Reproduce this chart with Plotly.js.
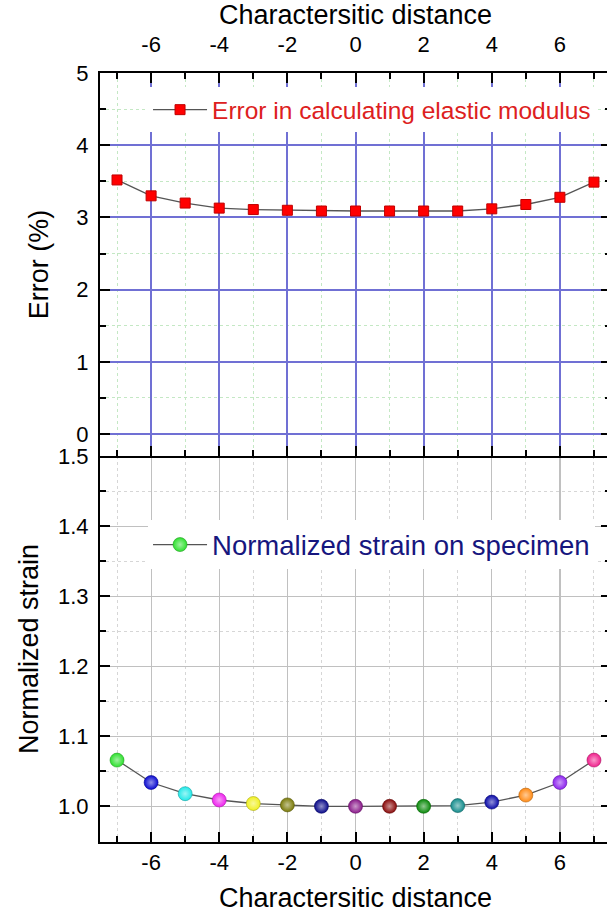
<!DOCTYPE html>
<html>
<head>
<meta charset="utf-8">
<script src="https://cdn.plot.ly/plotly-3.0.1.min.js"></script>
<style>
  html, body { margin: 0; padding: 0; overflow: hidden; background: #fff; }
  #chart { width: 611px; height: 917px; }
</style>
</head>
<body>
<div id="chart"></div>
<script>
// Characteristic distance positions (shared by both panels)
const distance = [-7, -6, -5, -4, -3, -2, -1, 0, 1, 2, 3, 4, 5, 6, 7];

// Error in calculating elastic modulus (%)
const errorPct = [3.52, 3.30, 3.20, 3.13, 3.11, 3.10, 3.09, 3.09, 3.09, 3.09, 3.09, 3.12, 3.18, 3.28, 3.49];

// Normalized strain on specimen
const normStrain = [1.066, 1.034, 1.018, 1.009, 1.004, 1.002, 1.000, 1.000, 1.000, 1.000, 1.001, 1.006, 1.016, 1.034, 1.066];

// One colour per strain marker
const strainColors = ['#2ee02e', '#0a0ad0', '#20e8e8', '#ee22ee', '#f0f020', '#7a7a08', '#0a0a8a', '#8a1a8a',
                      '#8a0a0a', '#0a8a0a', '#148c8c', '#0a0aa8', '#ff8a14', '#8c22ee', '#f0208c'];

const xTickVals = [-6, -4, -2, 0, 2, 4, 6];
const xMinorVals = [-7, -5, -3, -1, 1, 3, 5, 7];
const topTitle = 'Charactersitic distance';
const bottomTitle = 'Charactersitic distance';
const errorTitle = 'Error (%)';
const strainTitle = 'Normalized strain';
const errorName = 'Error in calculating elastic modulus';
const strainName = 'Normalized strain on specimen';

const FONT = 'Liberation Sans, Arial, sans-serif';

// lighter tint / darker shade of a colour, for the sphere look
function tint(hex, f) {
  const n = parseInt(hex.slice(1), 16);
  const r = (n >> 16) & 255, g = (n >> 8) & 255, b = n & 255;
  const m = c => Math.round(c + (255 - c) * f);
  return 'rgb(' + m(r) + ',' + m(g) + ',' + m(b) + ')';
}
function shade(hex, f) {
  const n = parseInt(hex.slice(1), 16);
  const r = (n >> 16) & 255, g = (n >> 8) & 255, b = n & 255;
  const m = c => Math.round(c * f);
  return 'rgb(' + m(r) + ',' + m(g) + ',' + m(b) + ')';
}

const errorTrace = {
  x: distance, y: errorPct, name: errorName,
  xaxis: 'x2', yaxis: 'y2', legend: 'legend',
  mode: 'lines+markers', type: 'scatter',
  line: { color: '#555555', width: 1.3 },
  marker: { symbol: 'square', size: 10, color: '#ff0000', line: { color: '#c00000', width: 1 } }
};

const strainTrace = {
  x: distance, y: normStrain, name: strainName,
  xaxis: 'x', yaxis: 'y', legend: 'legend2',
  mode: 'lines+markers', type: 'scatter',
  line: { color: '#555555', width: 1.3 },
  marker: {
    symbol: 'circle', size: 14, color: strainColors,
    gradient: { type: 'radial', color: strainColors.map(c => tint(c, 0.55)) },
    line: { color: strainColors.map(c => shade(c, 0.7)), width: 0.6 }
  }
};

const tickFont = { family: FONT, size: 22, color: '#000' };
const titleFont = { family: FONT, size: 27, color: '#000' };

const BLUE_GRID = 'rgb(112,112,212)';
const GREEN_MINOR = 'rgb(196,232,196)';
const GRAY_GRID = 'rgb(192,192,192)';
const GRAY_MINOR = 'rgb(214,214,214)';

function minorSpec(extra, color) {
  return Object.assign({ ticks: 'inside', ticklen: 6, tickwidth: 2, tickcolor: '#000',
    showgrid: true, gridcolor: color, griddash: 'dot', gridwidth: 1 }, extra);
}

const layout = {
  width: 611, height: 917,
  margin: { l: 100, r: 0, t: 73, b: 75 },
  paper_bgcolor: '#fff', plot_bgcolor: '#fff',
  font: { family: FONT },
  showlegend: true,
  // bottom panel
  xaxis: {
    domain: [0, 1], anchor: 'y', range: [-7.5, 7.5],
    tickmode: 'array', tickvals: xTickVals, ticktext: xTickVals.map(String),
    ticks: 'inside', ticklen: 10, tickwidth: 2, tickcolor: '#000',
    showline: true, linewidth: 2, linecolor: '#000', mirror: false,
    showgrid: true, gridcolor: GRAY_GRID, gridwidth: 1.2,
    minor: minorSpec({ tickvals: xMinorVals }, GRAY_MINOR),
    zeroline: false, tickfont: tickFont,
    title: { text: bottomTitle, font: titleFont, standoff: 14 }
  },
  yaxis: {
    domain: [0, 0.502], anchor: 'x', range: [0.949, 1.5005],
    tickmode: 'linear', tick0: 1.0, dtick: 0.1, tickformat: '.1f',
    ticks: 'inside', ticklen: 10, tickwidth: 2, tickcolor: '#000',
    showline: true, linewidth: 2, linecolor: '#000', mirror: 'ticks',
    showgrid: true, gridcolor: GRAY_GRID, gridwidth: 1.2,
    minor: minorSpec({ dtick: 0.05, tick0: 0.95 }, GRAY_MINOR),
    zeroline: false, tickfont: tickFont, ticklabelstandoff: 5,
    title: { text: strainTitle, font: titleFont, standoff: 12 }
  },
  // top panel
  xaxis2: {
    domain: [0, 1], anchor: 'y2', side: 'top', range: [-7.5, 7.5],
    tickmode: 'array', tickvals: xTickVals, ticktext: xTickVals.map(String),
    ticks: 'inside', ticklen: 10, tickwidth: 2, tickcolor: '#000',
    showline: true, linewidth: 2, linecolor: '#000', mirror: 'ticks',
    showgrid: true, gridcolor: BLUE_GRID, gridwidth: 2,
    minor: minorSpec({ tickvals: xMinorVals }, GREEN_MINOR),
    zeroline: false, tickfont: tickFont, ticklabelstandoff: 10,
    title: { text: topTitle, font: titleFont, standoff: 0 }
  },
  yaxis2: {
    domain: [0.502, 1], anchor: 'x2', range: [-0.304, 5.002],
    tickmode: 'linear', tick0: 0, dtick: 1,
    ticks: 'inside', ticklen: 10, tickwidth: 2, tickcolor: '#000',
    showline: true, linewidth: 2, linecolor: '#000', mirror: 'ticks',
    showgrid: true, gridcolor: BLUE_GRID, gridwidth: 2,
    minor: minorSpec({ dtick: 0.5, tick0: 0 }, GREEN_MINOR),
    zeroline: false, tickfont: tickFont, ticklabelstandoff: 5,
    title: { text: errorTitle, font: titleFont, standoff: 20 }
  },
  legend: {
    x: 0.094, y: 0.9815, xanchor: 'left', yanchor: 'top',
    bgcolor: '#ffffff', borderwidth: 0,
    font: { family: FONT, size: 24.5, color: '#dd2020' },
    itemwidth: 54
  },
  legend2: {
    x: 0.094, y: 0.4185, xanchor: 'left', yanchor: 'top',
    bgcolor: '#ffffff', borderwidth: 0,
    font: { family: FONT, size: 27.5, color: '#16167e' },
    itemwidth: 54
  }
};

Plotly.newPlot('chart', [errorTrace, strainTrace], layout, { displayModeBar: false, staticPlot: true });
</script>
</body>
</html>
